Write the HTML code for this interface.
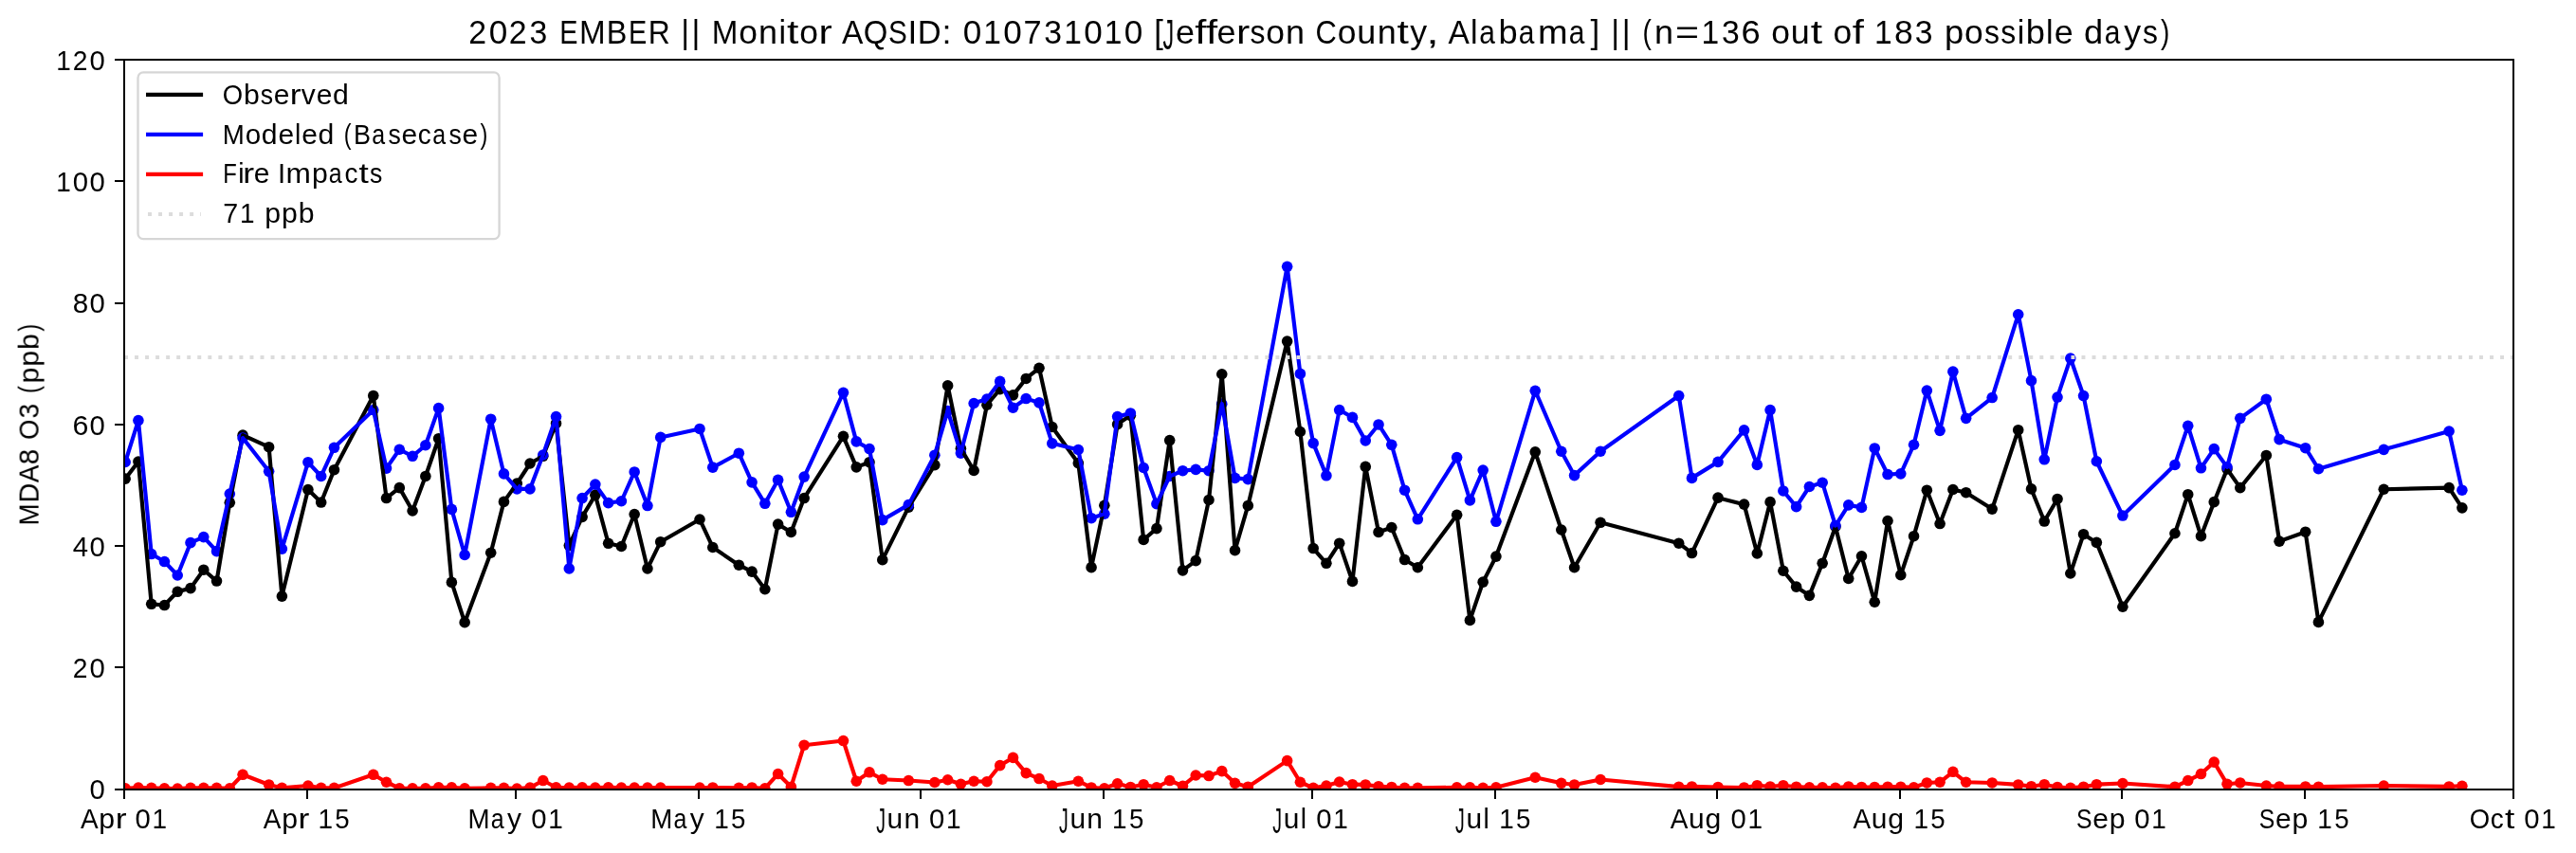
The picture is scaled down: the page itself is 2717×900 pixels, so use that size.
<!DOCTYPE html>
<html><head><meta charset="utf-8"><title>chart</title>
<style>html,body{margin:0;padding:0;background:#fff}svg{display:block}text{font-family:"Liberation Sans",sans-serif;fill:#000}</style></head><body>
<svg width="2717" height="900" viewBox="0 0 2717 900">
<rect width="2717" height="900" fill="#fff"/>
<defs><clipPath id="ax"><rect x="131.00" y="63.20" width="2519.80" height="769.50"/></clipPath></defs>
<g clip-path="url(#ax)">
<g fill="#000000"><circle cx="132.15" cy="505.15" r="5.80"/><circle cx="145.92" cy="487.07" r="5.80"/><circle cx="159.69" cy="637.31" r="5.80"/><circle cx="173.46" cy="638.53" r="5.80"/><circle cx="187.23" cy="624.29" r="5.80"/><circle cx="201.00" cy="620.64" r="5.80"/><circle cx="214.77" cy="601.21" r="5.80"/><circle cx="228.54" cy="613.07" r="5.80"/><circle cx="242.31" cy="530.35" r="5.80"/><circle cx="256.07" cy="459.17" r="5.80"/><circle cx="283.61" cy="471.68" r="5.80"/><circle cx="297.38" cy="629.10" r="5.80"/><circle cx="324.92" cy="516.56" r="5.80"/><circle cx="338.69" cy="530.03" r="5.80"/><circle cx="352.46" cy="495.72" r="5.80"/><circle cx="393.77" cy="417.43" r="5.80"/><circle cx="407.54" cy="525.54" r="5.80"/><circle cx="421.31" cy="514.64" r="5.80"/><circle cx="435.08" cy="539.01" r="5.80"/><circle cx="448.85" cy="502.46" r="5.80"/><circle cx="462.62" cy="462.70" r="5.80"/><circle cx="476.38" cy="614.42" r="5.80"/><circle cx="490.15" cy="656.68" r="5.80"/><circle cx="517.69" cy="583.25" r="5.80"/><circle cx="531.46" cy="529.39" r="5.80"/><circle cx="545.23" cy="510.15" r="5.80"/><circle cx="559.00" cy="488.99" r="5.80"/><circle cx="572.77" cy="481.30" r="5.80"/><circle cx="586.54" cy="446.67" r="5.80"/><circle cx="600.31" cy="575.56" r="5.80"/><circle cx="614.08" cy="545.42" r="5.80"/><circle cx="627.85" cy="522.34" r="5.80"/><circle cx="641.62" cy="573.31" r="5.80"/><circle cx="655.39" cy="576.52" r="5.80"/><circle cx="669.16" cy="542.53" r="5.80"/><circle cx="682.93" cy="599.93" r="5.80"/><circle cx="696.70" cy="571.71" r="5.80"/><circle cx="738.00" cy="547.99" r="5.80"/><circle cx="751.77" cy="577.48" r="5.80"/><circle cx="779.31" cy="596.21" r="5.80"/><circle cx="793.08" cy="603.13" r="5.80"/><circle cx="806.85" cy="621.73" r="5.80"/><circle cx="820.62" cy="553.12" r="5.80"/><circle cx="834.39" cy="561.45" r="5.80"/><circle cx="848.16" cy="525.54" r="5.80"/><circle cx="889.47" cy="460.33" r="5.80"/><circle cx="903.24" cy="492.84" r="5.80"/><circle cx="917.01" cy="487.71" r="5.80"/><circle cx="930.78" cy="590.69" r="5.80"/><circle cx="958.31" cy="535.16" r="5.80"/><circle cx="985.85" cy="490.59" r="5.80"/><circle cx="999.62" cy="406.91" r="5.80"/><circle cx="1013.39" cy="473.22" r="5.80"/><circle cx="1027.16" cy="496.49" r="5.80"/><circle cx="1040.93" cy="427.24" r="5.80"/><circle cx="1054.70" cy="410.76" r="5.80"/><circle cx="1068.47" cy="416.85" r="5.80"/><circle cx="1082.24" cy="399.47" r="5.80"/><circle cx="1096.01" cy="388.31" r="5.80"/><circle cx="1109.78" cy="450.52" r="5.80"/><circle cx="1137.32" cy="488.67" r="5.80"/><circle cx="1151.09" cy="598.64" r="5.80"/><circle cx="1164.85" cy="533.24" r="5.80"/><circle cx="1178.62" cy="447.63" r="5.80"/><circle cx="1192.39" cy="438.33" r="5.80"/><circle cx="1206.16" cy="569.47" r="5.80"/><circle cx="1219.93" cy="557.60" r="5.80"/><circle cx="1233.70" cy="464.62" r="5.80"/><circle cx="1247.47" cy="601.85" r="5.80"/><circle cx="1261.24" cy="591.59" r="5.80"/><circle cx="1275.01" cy="527.47" r="5.80"/><circle cx="1288.78" cy="394.73" r="5.80"/><circle cx="1302.55" cy="580.69" r="5.80"/><circle cx="1316.32" cy="533.43" r="5.80"/><circle cx="1357.63" cy="360.10" r="5.80"/><circle cx="1371.40" cy="455.52" r="5.80"/><circle cx="1385.17" cy="578.57" r="5.80"/><circle cx="1398.93" cy="594.28" r="5.80"/><circle cx="1412.70" cy="573.19" r="5.80"/><circle cx="1426.47" cy="613.39" r="5.80"/><circle cx="1440.24" cy="492.39" r="5.80"/><circle cx="1454.01" cy="561.45" r="5.80"/><circle cx="1467.78" cy="556.51" r="5.80"/><circle cx="1481.55" cy="590.56" r="5.80"/><circle cx="1495.32" cy="598.77" r="5.80"/><circle cx="1536.63" cy="543.30" r="5.80"/><circle cx="1550.40" cy="654.43" r="5.80"/><circle cx="1564.17" cy="614.16" r="5.80"/><circle cx="1577.94" cy="587.10" r="5.80"/><circle cx="1619.25" cy="476.81" r="5.80"/><circle cx="1646.78" cy="559.01" r="5.80"/><circle cx="1660.55" cy="598.77" r="5.80"/><circle cx="1688.09" cy="551.32" r="5.80"/><circle cx="1770.71" cy="573.19" r="5.80"/><circle cx="1784.48" cy="583.57" r="5.80"/><circle cx="1812.02" cy="525.16" r="5.80"/><circle cx="1839.56" cy="532.15" r="5.80"/><circle cx="1853.32" cy="583.90" r="5.80"/><circle cx="1867.09" cy="529.65" r="5.80"/><circle cx="1880.86" cy="602.23" r="5.80"/><circle cx="1894.63" cy="619.16" r="5.80"/><circle cx="1908.40" cy="628.33" r="5.80"/><circle cx="1922.17" cy="594.28" r="5.80"/><circle cx="1935.94" cy="555.68" r="5.80"/><circle cx="1949.71" cy="610.44" r="5.80"/><circle cx="1963.48" cy="586.78" r="5.80"/><circle cx="1977.25" cy="635.26" r="5.80"/><circle cx="1991.02" cy="549.52" r="5.80"/><circle cx="2004.79" cy="606.72" r="5.80"/><circle cx="2018.56" cy="565.68" r="5.80"/><circle cx="2032.33" cy="517.21" r="5.80"/><circle cx="2046.10" cy="552.54" r="5.80"/><circle cx="2059.87" cy="516.50" r="5.80"/><circle cx="2073.64" cy="519.71" r="5.80"/><circle cx="2101.17" cy="537.08" r="5.80"/><circle cx="2128.71" cy="453.72" r="5.80"/><circle cx="2142.48" cy="515.92" r="5.80"/><circle cx="2156.25" cy="550.04" r="5.80"/><circle cx="2170.02" cy="526.44" r="5.80"/><circle cx="2183.79" cy="604.99" r="5.80"/><circle cx="2197.56" cy="563.70" r="5.80"/><circle cx="2211.33" cy="572.42" r="5.80"/><circle cx="2238.87" cy="640.26" r="5.80"/><circle cx="2293.95" cy="562.73" r="5.80"/><circle cx="2307.72" cy="521.69" r="5.80"/><circle cx="2321.48" cy="565.68" r="5.80"/><circle cx="2335.25" cy="529.65" r="5.80"/><circle cx="2349.02" cy="494.89" r="5.80"/><circle cx="2362.79" cy="514.64" r="5.80"/><circle cx="2390.33" cy="480.46" r="5.80"/><circle cx="2404.10" cy="571.13" r="5.80"/><circle cx="2431.64" cy="561.19" r="5.80"/><circle cx="2445.41" cy="656.42" r="5.80"/><circle cx="2514.26" cy="516.24" r="5.80"/><circle cx="2583.10" cy="514.64" r="5.80"/><circle cx="2596.87" cy="535.87" r="5.80"/></g>
<g fill="#0000ff"><circle cx="132.15" cy="487.52" r="5.80"/><circle cx="145.92" cy="443.53" r="5.80"/><circle cx="159.69" cy="584.54" r="5.80"/><circle cx="173.46" cy="592.55" r="5.80"/><circle cx="187.23" cy="606.98" r="5.80"/><circle cx="201.00" cy="572.67" r="5.80"/><circle cx="214.77" cy="566.58" r="5.80"/><circle cx="228.54" cy="581.65" r="5.80"/><circle cx="242.31" cy="521.05" r="5.80"/><circle cx="256.07" cy="462.06" r="5.80"/><circle cx="283.61" cy="497.33" r="5.80"/><circle cx="297.38" cy="579.09" r="5.80"/><circle cx="324.92" cy="487.71" r="5.80"/><circle cx="338.69" cy="502.46" r="5.80"/><circle cx="352.46" cy="472.32" r="5.80"/><circle cx="393.77" cy="432.56" r="5.80"/><circle cx="407.54" cy="494.12" r="5.80"/><circle cx="421.31" cy="474.24" r="5.80"/><circle cx="435.08" cy="481.30" r="5.80"/><circle cx="448.85" cy="469.75" r="5.80"/><circle cx="462.62" cy="430.64" r="5.80"/><circle cx="476.38" cy="537.40" r="5.80"/><circle cx="490.15" cy="585.50" r="5.80"/><circle cx="517.69" cy="442.18" r="5.80"/><circle cx="531.46" cy="499.89" r="5.80"/><circle cx="545.23" cy="515.92" r="5.80"/><circle cx="559.00" cy="515.92" r="5.80"/><circle cx="572.77" cy="480.01" r="5.80"/><circle cx="586.54" cy="439.61" r="5.80"/><circle cx="600.31" cy="599.93" r="5.80"/><circle cx="614.08" cy="525.54" r="5.80"/><circle cx="627.85" cy="511.11" r="5.80"/><circle cx="641.62" cy="530.67" r="5.80"/><circle cx="655.39" cy="528.75" r="5.80"/><circle cx="669.16" cy="497.97" r="5.80"/><circle cx="682.93" cy="533.56" r="5.80"/><circle cx="696.70" cy="461.42" r="5.80"/><circle cx="738.00" cy="452.44" r="5.80"/><circle cx="751.77" cy="493.16" r="5.80"/><circle cx="779.31" cy="478.22" r="5.80"/><circle cx="793.08" cy="508.87" r="5.80"/><circle cx="806.85" cy="531.31" r="5.80"/><circle cx="820.62" cy="506.30" r="5.80"/><circle cx="834.39" cy="540.29" r="5.80"/><circle cx="848.16" cy="503.10" r="5.80"/><circle cx="889.47" cy="414.35" r="5.80"/><circle cx="903.24" cy="465.91" r="5.80"/><circle cx="917.01" cy="473.60" r="5.80"/><circle cx="930.78" cy="548.63" r="5.80"/><circle cx="958.31" cy="532.60" r="5.80"/><circle cx="985.85" cy="480.20" r="5.80"/><circle cx="999.62" cy="433.46" r="5.80"/><circle cx="1013.39" cy="478.09" r="5.80"/><circle cx="1027.16" cy="425.51" r="5.80"/><circle cx="1040.93" cy="421.02" r="5.80"/><circle cx="1054.70" cy="402.42" r="5.80"/><circle cx="1068.47" cy="430.25" r="5.80"/><circle cx="1082.24" cy="420.57" r="5.80"/><circle cx="1096.01" cy="424.87" r="5.80"/><circle cx="1109.78" cy="467.83" r="5.80"/><circle cx="1137.32" cy="474.50" r="5.80"/><circle cx="1151.09" cy="546.70" r="5.80"/><circle cx="1164.85" cy="542.21" r="5.80"/><circle cx="1178.62" cy="439.61" r="5.80"/><circle cx="1192.39" cy="435.96" r="5.80"/><circle cx="1206.16" cy="493.48" r="5.80"/><circle cx="1219.93" cy="531.63" r="5.80"/><circle cx="1233.70" cy="502.46" r="5.80"/><circle cx="1247.47" cy="496.69" r="5.80"/><circle cx="1261.24" cy="495.40" r="5.80"/><circle cx="1275.01" cy="496.69" r="5.80"/><circle cx="1288.78" cy="426.15" r="5.80"/><circle cx="1302.55" cy="504.38" r="5.80"/><circle cx="1316.32" cy="505.66" r="5.80"/><circle cx="1357.63" cy="281.35" r="5.80"/><circle cx="1371.40" cy="394.41" r="5.80"/><circle cx="1385.17" cy="467.64" r="5.80"/><circle cx="1398.93" cy="501.82" r="5.80"/><circle cx="1412.70" cy="432.56" r="5.80"/><circle cx="1426.47" cy="440.38" r="5.80"/><circle cx="1440.24" cy="464.94" r="5.80"/><circle cx="1454.01" cy="447.95" r="5.80"/><circle cx="1467.78" cy="469.30" r="5.80"/><circle cx="1481.55" cy="517.21" r="5.80"/><circle cx="1495.32" cy="547.79" r="5.80"/><circle cx="1536.63" cy="482.58" r="5.80"/><circle cx="1550.40" cy="527.91" r="5.80"/><circle cx="1564.17" cy="496.11" r="5.80"/><circle cx="1577.94" cy="550.29" r="5.80"/><circle cx="1619.25" cy="412.30" r="5.80"/><circle cx="1646.78" cy="476.23" r="5.80"/><circle cx="1660.55" cy="501.62" r="5.80"/><circle cx="1688.09" cy="476.23" r="5.80"/><circle cx="1770.71" cy="417.55" r="5.80"/><circle cx="1784.48" cy="504.38" r="5.80"/><circle cx="1812.02" cy="487.39" r="5.80"/><circle cx="1839.56" cy="453.85" r="5.80"/><circle cx="1853.32" cy="490.40" r="5.80"/><circle cx="1867.09" cy="432.56" r="5.80"/><circle cx="1880.86" cy="517.97" r="5.80"/><circle cx="1894.63" cy="534.65" r="5.80"/><circle cx="1908.40" cy="513.49" r="5.80"/><circle cx="1922.17" cy="509.25" r="5.80"/><circle cx="1935.94" cy="554.53" r="5.80"/><circle cx="1949.71" cy="532.92" r="5.80"/><circle cx="1963.48" cy="535.42" r="5.80"/><circle cx="1977.25" cy="472.96" r="5.80"/><circle cx="1991.02" cy="500.53" r="5.80"/><circle cx="2004.79" cy="499.83" r="5.80"/><circle cx="2018.56" cy="469.24" r="5.80"/><circle cx="2032.33" cy="412.04" r="5.80"/><circle cx="2046.10" cy="454.36" r="5.80"/><circle cx="2059.87" cy="392.16" r="5.80"/><circle cx="2073.64" cy="441.35" r="5.80"/><circle cx="2101.17" cy="419.54" r="5.80"/><circle cx="2128.71" cy="331.76" r="5.80"/><circle cx="2142.48" cy="401.65" r="5.80"/><circle cx="2156.25" cy="484.82" r="5.80"/><circle cx="2170.02" cy="419.03" r="5.80"/><circle cx="2183.79" cy="378.05" r="5.80"/><circle cx="2197.56" cy="417.55" r="5.80"/><circle cx="2211.33" cy="486.75" r="5.80"/><circle cx="2238.87" cy="544.07" r="5.80"/><circle cx="2293.95" cy="490.46" r="5.80"/><circle cx="2307.72" cy="449.36" r="5.80"/><circle cx="2321.48" cy="493.80" r="5.80"/><circle cx="2335.25" cy="473.60" r="5.80"/><circle cx="2349.02" cy="492.84" r="5.80"/><circle cx="2362.79" cy="441.35" r="5.80"/><circle cx="2390.33" cy="421.21" r="5.80"/><circle cx="2404.10" cy="463.66" r="5.80"/><circle cx="2431.64" cy="472.70" r="5.80"/><circle cx="2445.41" cy="494.76" r="5.80"/><circle cx="2514.26" cy="474.37" r="5.80"/><circle cx="2583.10" cy="455.00" r="5.80"/><circle cx="2596.87" cy="517.21" r="5.80"/></g>
<g fill="#ff0000"><circle cx="132.15" cy="831.74" r="5.80"/><circle cx="145.92" cy="831.10" r="5.80"/><circle cx="159.69" cy="831.42" r="5.80"/><circle cx="173.46" cy="831.74" r="5.80"/><circle cx="187.23" cy="832.06" r="5.80"/><circle cx="201.00" cy="831.42" r="5.80"/><circle cx="214.77" cy="831.42" r="5.80"/><circle cx="228.54" cy="831.42" r="5.80"/><circle cx="242.31" cy="831.74" r="5.80"/><circle cx="256.07" cy="817.31" r="5.80"/><circle cx="283.61" cy="827.95" r="5.80"/><circle cx="297.38" cy="831.42" r="5.80"/><circle cx="324.92" cy="828.98" r="5.80"/><circle cx="338.69" cy="831.42" r="5.80"/><circle cx="352.46" cy="831.42" r="5.80"/><circle cx="393.77" cy="817.31" r="5.80"/><circle cx="407.54" cy="825.26" r="5.80"/><circle cx="421.31" cy="831.74" r="5.80"/><circle cx="435.08" cy="831.74" r="5.80"/><circle cx="448.85" cy="831.74" r="5.80"/><circle cx="462.62" cy="830.78" r="5.80"/><circle cx="476.38" cy="830.78" r="5.80"/><circle cx="490.15" cy="831.74" r="5.80"/><circle cx="517.69" cy="831.42" r="5.80"/><circle cx="531.46" cy="831.42" r="5.80"/><circle cx="545.23" cy="832.06" r="5.80"/><circle cx="559.00" cy="831.10" r="5.80"/><circle cx="572.77" cy="823.53" r="5.80"/><circle cx="586.54" cy="830.78" r="5.80"/><circle cx="600.31" cy="831.10" r="5.80"/><circle cx="614.08" cy="830.78" r="5.80"/><circle cx="627.85" cy="831.10" r="5.80"/><circle cx="641.62" cy="830.78" r="5.80"/><circle cx="655.39" cy="831.10" r="5.80"/><circle cx="669.16" cy="831.10" r="5.80"/><circle cx="682.93" cy="831.10" r="5.80"/><circle cx="696.70" cy="831.10" r="5.80"/><circle cx="738.00" cy="831.10" r="5.80"/><circle cx="751.77" cy="830.97" r="5.80"/><circle cx="779.31" cy="831.42" r="5.80"/><circle cx="793.08" cy="830.97" r="5.80"/><circle cx="806.85" cy="831.74" r="5.80"/><circle cx="820.62" cy="816.54" r="5.80"/><circle cx="834.39" cy="830.20" r="5.80"/><circle cx="848.16" cy="786.21" r="5.80"/><circle cx="889.47" cy="781.53" r="5.80"/><circle cx="903.24" cy="824.24" r="5.80"/><circle cx="917.01" cy="814.81" r="5.80"/><circle cx="930.78" cy="822.25" r="5.80"/><circle cx="958.31" cy="823.53" r="5.80"/><circle cx="985.85" cy="825.52" r="5.80"/><circle cx="999.62" cy="822.76" r="5.80"/><circle cx="1013.39" cy="827.25" r="5.80"/><circle cx="1027.16" cy="824.24" r="5.80"/><circle cx="1040.93" cy="824.75" r="5.80"/><circle cx="1054.70" cy="807.63" r="5.80"/><circle cx="1068.47" cy="799.42" r="5.80"/><circle cx="1082.24" cy="815.58" r="5.80"/><circle cx="1096.01" cy="821.54" r="5.80"/><circle cx="1109.78" cy="828.98" r="5.80"/><circle cx="1137.32" cy="824.24" r="5.80"/><circle cx="1151.09" cy="830.97" r="5.80"/><circle cx="1164.85" cy="831.74" r="5.80"/><circle cx="1178.62" cy="826.74" r="5.80"/><circle cx="1192.39" cy="830.46" r="5.80"/><circle cx="1206.16" cy="827.70" r="5.80"/><circle cx="1219.93" cy="830.78" r="5.80"/><circle cx="1233.70" cy="823.53" r="5.80"/><circle cx="1247.47" cy="829.24" r="5.80"/><circle cx="1261.24" cy="818.02" r="5.80"/><circle cx="1275.01" cy="818.53" r="5.80"/><circle cx="1288.78" cy="813.59" r="5.80"/><circle cx="1302.55" cy="826.29" r="5.80"/><circle cx="1316.32" cy="830.20" r="5.80"/><circle cx="1357.63" cy="802.63" r="5.80"/><circle cx="1371.40" cy="825.26" r="5.80"/><circle cx="1385.17" cy="831.42" r="5.80"/><circle cx="1398.93" cy="828.98" r="5.80"/><circle cx="1412.70" cy="825.00" r="5.80"/><circle cx="1426.47" cy="827.70" r="5.80"/><circle cx="1440.24" cy="827.95" r="5.80"/><circle cx="1454.01" cy="829.69" r="5.80"/><circle cx="1467.78" cy="830.46" r="5.80"/><circle cx="1481.55" cy="831.23" r="5.80"/><circle cx="1495.32" cy="831.42" r="5.80"/><circle cx="1536.63" cy="830.78" r="5.80"/><circle cx="1550.40" cy="830.78" r="5.80"/><circle cx="1564.17" cy="831.23" r="5.80"/><circle cx="1577.94" cy="830.78" r="5.80"/><circle cx="1619.25" cy="820.26" r="5.80"/><circle cx="1646.78" cy="826.29" r="5.80"/><circle cx="1660.55" cy="827.95" r="5.80"/><circle cx="1688.09" cy="822.50" r="5.80"/><circle cx="1770.71" cy="830.20" r="5.80"/><circle cx="1784.48" cy="829.94" r="5.80"/><circle cx="1812.02" cy="830.46" r="5.80"/><circle cx="1839.56" cy="830.97" r="5.80"/><circle cx="1853.32" cy="828.72" r="5.80"/><circle cx="1867.09" cy="829.94" r="5.80"/><circle cx="1880.86" cy="828.72" r="5.80"/><circle cx="1894.63" cy="830.20" r="5.80"/><circle cx="1908.40" cy="830.78" r="5.80"/><circle cx="1922.17" cy="830.78" r="5.80"/><circle cx="1935.94" cy="831.23" r="5.80"/><circle cx="1949.71" cy="829.94" r="5.80"/><circle cx="1963.48" cy="830.46" r="5.80"/><circle cx="1977.25" cy="830.46" r="5.80"/><circle cx="1991.02" cy="830.20" r="5.80"/><circle cx="2004.79" cy="830.20" r="5.80"/><circle cx="2018.56" cy="830.78" r="5.80"/><circle cx="2032.33" cy="825.97" r="5.80"/><circle cx="2046.10" cy="825.26" r="5.80"/><circle cx="2059.87" cy="814.30" r="5.80"/><circle cx="2073.64" cy="825.26" r="5.80"/><circle cx="2101.17" cy="825.97" r="5.80"/><circle cx="2128.71" cy="827.95" r="5.80"/><circle cx="2142.48" cy="829.69" r="5.80"/><circle cx="2156.25" cy="827.70" r="5.80"/><circle cx="2170.02" cy="830.46" r="5.80"/><circle cx="2183.79" cy="831.23" r="5.80"/><circle cx="2197.56" cy="830.20" r="5.80"/><circle cx="2211.33" cy="827.70" r="5.80"/><circle cx="2238.87" cy="826.48" r="5.80"/><circle cx="2293.95" cy="830.20" r="5.80"/><circle cx="2307.72" cy="823.53" r="5.80"/><circle cx="2321.48" cy="816.54" r="5.80"/><circle cx="2335.25" cy="804.10" r="5.80"/><circle cx="2349.02" cy="827.25" r="5.80"/><circle cx="2362.79" cy="825.97" r="5.80"/><circle cx="2390.33" cy="828.98" r="5.80"/><circle cx="2404.10" cy="829.94" r="5.80"/><circle cx="2431.64" cy="829.94" r="5.80"/><circle cx="2445.41" cy="830.20" r="5.80"/><circle cx="2514.26" cy="828.98" r="5.80"/><circle cx="2583.10" cy="829.94" r="5.80"/><circle cx="2596.87" cy="829.24" r="5.80"/></g>
<path d="M132.15 505.15 L145.92 487.07 L159.69 637.31 L173.46 638.53 L187.23 624.29 L201.00 620.64 L214.77 601.21 L228.54 613.07 L242.31 530.35 L256.07 459.17 L283.61 471.68 L297.38 629.10 L324.92 516.56 L338.69 530.03 L352.46 495.72 L393.77 417.43 L407.54 525.54 L421.31 514.64 L435.08 539.01 L448.85 502.46 L462.62 462.70 L476.38 614.42 L490.15 656.68 L517.69 583.25 L531.46 529.39 L545.23 510.15 L559.00 488.99 L572.77 481.30 L586.54 446.67 L600.31 575.56 L614.08 545.42 L627.85 522.34 L641.62 573.31 L655.39 576.52 L669.16 542.53 L682.93 599.93 L696.70 571.71 L738.00 547.99 L751.77 577.48 L779.31 596.21 L793.08 603.13 L806.85 621.73 L820.62 553.12 L834.39 561.45 L848.16 525.54 L889.47 460.33 L903.24 492.84 L917.01 487.71 L930.78 590.69 L958.31 535.16 L985.85 490.59 L999.62 406.91 L1013.39 473.22 L1027.16 496.49 L1040.93 427.24 L1054.70 410.76 L1068.47 416.85 L1082.24 399.47 L1096.01 388.31 L1109.78 450.52 L1137.32 488.67 L1151.09 598.64 L1164.85 533.24 L1178.62 447.63 L1192.39 438.33 L1206.16 569.47 L1219.93 557.60 L1233.70 464.62 L1247.47 601.85 L1261.24 591.59 L1275.01 527.47 L1288.78 394.73 L1302.55 580.69 L1316.32 533.43 L1357.63 360.10 L1371.40 455.52 L1385.17 578.57 L1398.93 594.28 L1412.70 573.19 L1426.47 613.39 L1440.24 492.39 L1454.01 561.45 L1467.78 556.51 L1481.55 590.56 L1495.32 598.77 L1536.63 543.30 L1550.40 654.43 L1564.17 614.16 L1577.94 587.10 L1619.25 476.81 L1646.78 559.01 L1660.55 598.77 L1688.09 551.32 L1770.71 573.19 L1784.48 583.57 L1812.02 525.16 L1839.56 532.15 L1853.32 583.90 L1867.09 529.65 L1880.86 602.23 L1894.63 619.16 L1908.40 628.33 L1922.17 594.28 L1935.94 555.68 L1949.71 610.44 L1963.48 586.78 L1977.25 635.26 L1991.02 549.52 L2004.79 606.72 L2018.56 565.68 L2032.33 517.21 L2046.10 552.54 L2059.87 516.50 L2073.64 519.71 L2101.17 537.08 L2128.71 453.72 L2142.48 515.92 L2156.25 550.04 L2170.02 526.44 L2183.79 604.99 L2197.56 563.70 L2211.33 572.42 L2238.87 640.26 L2293.95 562.73 L2307.72 521.69 L2321.48 565.68 L2335.25 529.65 L2349.02 494.89 L2362.79 514.64 L2390.33 480.46 L2404.10 571.13 L2431.64 561.19 L2445.41 656.42 L2514.26 516.24 L2583.10 514.64 L2596.87 535.87" fill="none" stroke="#000000" stroke-width="4.17" stroke-linejoin="round" stroke-linecap="butt"/>
<path d="M132.15 487.52 L145.92 443.53 L159.69 584.54 L173.46 592.55 L187.23 606.98 L201.00 572.67 L214.77 566.58 L228.54 581.65 L242.31 521.05 L256.07 462.06 L283.61 497.33 L297.38 579.09 L324.92 487.71 L338.69 502.46 L352.46 472.32 L393.77 432.56 L407.54 494.12 L421.31 474.24 L435.08 481.30 L448.85 469.75 L462.62 430.64 L476.38 537.40 L490.15 585.50 L517.69 442.18 L531.46 499.89 L545.23 515.92 L559.00 515.92 L572.77 480.01 L586.54 439.61 L600.31 599.93 L614.08 525.54 L627.85 511.11 L641.62 530.67 L655.39 528.75 L669.16 497.97 L682.93 533.56 L696.70 461.42 L738.00 452.44 L751.77 493.16 L779.31 478.22 L793.08 508.87 L806.85 531.31 L820.62 506.30 L834.39 540.29 L848.16 503.10 L889.47 414.35 L903.24 465.91 L917.01 473.60 L930.78 548.63 L958.31 532.60 L985.85 480.20 L999.62 433.46 L1013.39 478.09 L1027.16 425.51 L1040.93 421.02 L1054.70 402.42 L1068.47 430.25 L1082.24 420.57 L1096.01 424.87 L1109.78 467.83 L1137.32 474.50 L1151.09 546.70 L1164.85 542.21 L1178.62 439.61 L1192.39 435.96 L1206.16 493.48 L1219.93 531.63 L1233.70 502.46 L1247.47 496.69 L1261.24 495.40 L1275.01 496.69 L1288.78 426.15 L1302.55 504.38 L1316.32 505.66 L1357.63 281.35 L1371.40 394.41 L1385.17 467.64 L1398.93 501.82 L1412.70 432.56 L1426.47 440.38 L1440.24 464.94 L1454.01 447.95 L1467.78 469.30 L1481.55 517.21 L1495.32 547.79 L1536.63 482.58 L1550.40 527.91 L1564.17 496.11 L1577.94 550.29 L1619.25 412.30 L1646.78 476.23 L1660.55 501.62 L1688.09 476.23 L1770.71 417.55 L1784.48 504.38 L1812.02 487.39 L1839.56 453.85 L1853.32 490.40 L1867.09 432.56 L1880.86 517.97 L1894.63 534.65 L1908.40 513.49 L1922.17 509.25 L1935.94 554.53 L1949.71 532.92 L1963.48 535.42 L1977.25 472.96 L1991.02 500.53 L2004.79 499.83 L2018.56 469.24 L2032.33 412.04 L2046.10 454.36 L2059.87 392.16 L2073.64 441.35 L2101.17 419.54 L2128.71 331.76 L2142.48 401.65 L2156.25 484.82 L2170.02 419.03 L2183.79 378.05 L2197.56 417.55 L2211.33 486.75 L2238.87 544.07 L2293.95 490.46 L2307.72 449.36 L2321.48 493.80 L2335.25 473.60 L2349.02 492.84 L2362.79 441.35 L2390.33 421.21 L2404.10 463.66 L2431.64 472.70 L2445.41 494.76 L2514.26 474.37 L2583.10 455.00 L2596.87 517.21" fill="none" stroke="#0000ff" stroke-width="4.17" stroke-linejoin="round" stroke-linecap="butt"/>
<path d="M132.15 831.74 L145.92 831.10 L159.69 831.42 L173.46 831.74 L187.23 832.06 L201.00 831.42 L214.77 831.42 L228.54 831.42 L242.31 831.74 L256.07 817.31 L283.61 827.95 L297.38 831.42 L324.92 828.98 L338.69 831.42 L352.46 831.42 L393.77 817.31 L407.54 825.26 L421.31 831.74 L435.08 831.74 L448.85 831.74 L462.62 830.78 L476.38 830.78 L490.15 831.74 L517.69 831.42 L531.46 831.42 L545.23 832.06 L559.00 831.10 L572.77 823.53 L586.54 830.78 L600.31 831.10 L614.08 830.78 L627.85 831.10 L641.62 830.78 L655.39 831.10 L669.16 831.10 L682.93 831.10 L696.70 831.10 L738.00 831.10 L751.77 830.97 L779.31 831.42 L793.08 830.97 L806.85 831.74 L820.62 816.54 L834.39 830.20 L848.16 786.21 L889.47 781.53 L903.24 824.24 L917.01 814.81 L930.78 822.25 L958.31 823.53 L985.85 825.52 L999.62 822.76 L1013.39 827.25 L1027.16 824.24 L1040.93 824.75 L1054.70 807.63 L1068.47 799.42 L1082.24 815.58 L1096.01 821.54 L1109.78 828.98 L1137.32 824.24 L1151.09 830.97 L1164.85 831.74 L1178.62 826.74 L1192.39 830.46 L1206.16 827.70 L1219.93 830.78 L1233.70 823.53 L1247.47 829.24 L1261.24 818.02 L1275.01 818.53 L1288.78 813.59 L1302.55 826.29 L1316.32 830.20 L1357.63 802.63 L1371.40 825.26 L1385.17 831.42 L1398.93 828.98 L1412.70 825.00 L1426.47 827.70 L1440.24 827.95 L1454.01 829.69 L1467.78 830.46 L1481.55 831.23 L1495.32 831.42 L1536.63 830.78 L1550.40 830.78 L1564.17 831.23 L1577.94 830.78 L1619.25 820.26 L1646.78 826.29 L1660.55 827.95 L1688.09 822.50 L1770.71 830.20 L1784.48 829.94 L1812.02 830.46 L1839.56 830.97 L1853.32 828.72 L1867.09 829.94 L1880.86 828.72 L1894.63 830.20 L1908.40 830.78 L1922.17 830.78 L1935.94 831.23 L1949.71 829.94 L1963.48 830.46 L1977.25 830.46 L1991.02 830.20 L2004.79 830.20 L2018.56 830.78 L2032.33 825.97 L2046.10 825.26 L2059.87 814.30 L2073.64 825.26 L2101.17 825.97 L2128.71 827.95 L2142.48 829.69 L2156.25 827.70 L2170.02 830.46 L2183.79 831.23 L2197.56 830.20 L2211.33 827.70 L2238.87 826.48 L2293.95 830.20 L2307.72 823.53 L2321.48 816.54 L2335.25 804.10 L2349.02 827.25 L2362.79 825.97 L2390.33 828.98 L2404.10 829.94 L2431.64 829.94 L2445.41 830.20 L2514.26 828.98 L2583.10 829.94 L2596.87 829.24" fill="none" stroke="#ff0000" stroke-width="4.17" stroke-linejoin="round" stroke-linecap="butt"/>
<line x1="131.00" y1="377.00" x2="2650.80" y2="377.00" stroke="#dcdcdc" stroke-width="4" stroke-dasharray="3.95 7.09"/>
</g>
<g stroke="#000" stroke-width="2"><line x1="131" y1="832.7" x2="131" y2="842.9"/><line x1="324" y1="832.7" x2="324" y2="842.9"/><line x1="544" y1="832.7" x2="544" y2="842.9"/><line x1="737" y1="832.7" x2="737" y2="842.9"/><line x1="971" y1="832.7" x2="971" y2="842.9"/><line x1="1164" y1="832.7" x2="1164" y2="842.9"/><line x1="1384" y1="832.7" x2="1384" y2="842.9"/><line x1="1577" y1="832.7" x2="1577" y2="842.9"/><line x1="1811" y1="832.7" x2="1811" y2="842.9"/><line x1="2004" y1="832.7" x2="2004" y2="842.9"/><line x1="2238" y1="832.7" x2="2238" y2="842.9"/><line x1="2431" y1="832.7" x2="2431" y2="842.9"/><line x1="2651" y1="832.7" x2="2651" y2="842.9"/><line x1="121.0" y1="833" x2="131.0" y2="833"/><line x1="121.0" y1="704" x2="131.0" y2="704"/><line x1="121.0" y1="576" x2="131.0" y2="576"/><line x1="121.0" y1="448" x2="131.0" y2="448"/><line x1="121.0" y1="320" x2="131.0" y2="320"/><line x1="121.0" y1="191" x2="131.0" y2="191"/><line x1="121.0" y1="63" x2="131.0" y2="63"/></g>
<rect x="131.0" y="63.0" width="2520.0" height="770.0" fill="none" stroke="#000" stroke-width="2"/>
<g style="filter:grayscale(1)">
<g font-size="29.50" transform="translate(0,874.20)"><text x="84.91" textLength="18.66" lengthAdjust="spacingAndGlyphs">A</text><text x="104.38" textLength="16.81" lengthAdjust="spacingAndGlyphs">p</text><text x="121.65" textLength="11.85" lengthAdjust="spacingAndGlyphs">r</text><text x="142.49" textLength="16.29" lengthAdjust="spacingAndGlyphs">0</text><text x="160.45" textLength="15.55" lengthAdjust="spacingAndGlyphs">1</text></g>
<g font-size="29.50" transform="translate(0,874.20)"><text x="277.68" textLength="18.66" lengthAdjust="spacingAndGlyphs">A</text><text x="297.15" textLength="16.81" lengthAdjust="spacingAndGlyphs">p</text><text x="314.42" textLength="11.85" lengthAdjust="spacingAndGlyphs">r</text><text x="335.49" textLength="15.55" lengthAdjust="spacingAndGlyphs">1</text><text x="353.34" textLength="15.37" lengthAdjust="spacingAndGlyphs">5</text></g>
<g font-size="29.50" transform="translate(0,874.20)"><text x="493.58" textLength="23.07" lengthAdjust="spacingAndGlyphs">M</text><text x="517.77" textLength="13.89" lengthAdjust="spacingAndGlyphs">a</text><text x="534.99" textLength="14.92" lengthAdjust="spacingAndGlyphs">y</text><text x="560.27" textLength="16.29" lengthAdjust="spacingAndGlyphs">0</text><text x="578.23" textLength="15.55" lengthAdjust="spacingAndGlyphs">1</text></g>
<g font-size="29.50" transform="translate(0,874.20)"><text x="686.35" textLength="23.07" lengthAdjust="spacingAndGlyphs">M</text><text x="710.54" textLength="13.89" lengthAdjust="spacingAndGlyphs">a</text><text x="727.77" textLength="14.92" lengthAdjust="spacingAndGlyphs">y</text><text x="753.28" textLength="15.55" lengthAdjust="spacingAndGlyphs">1</text><text x="771.12" textLength="15.37" lengthAdjust="spacingAndGlyphs">5</text></g>
<g font-size="29.50" transform="translate(0,874.20)"><text x="924.19" textLength="9.74" lengthAdjust="spacingAndGlyphs" transform="translate(0,5.20) scale(1,1.2540)">J</text><text x="935.64" textLength="16.66" lengthAdjust="spacingAndGlyphs">u</text><text x="953.42" textLength="16.66" lengthAdjust="spacingAndGlyphs">n</text><text x="980.09" textLength="16.29" lengthAdjust="spacingAndGlyphs">0</text><text x="998.05" textLength="15.55" lengthAdjust="spacingAndGlyphs">1</text></g>
<g font-size="29.50" transform="translate(0,874.20)"><text x="1116.96" textLength="9.74" lengthAdjust="spacingAndGlyphs" transform="translate(0,5.20) scale(1,1.2540)">J</text><text x="1128.42" textLength="16.66" lengthAdjust="spacingAndGlyphs">u</text><text x="1146.19" textLength="16.66" lengthAdjust="spacingAndGlyphs">n</text><text x="1173.10" textLength="15.55" lengthAdjust="spacingAndGlyphs">1</text><text x="1190.94" textLength="15.37" lengthAdjust="spacingAndGlyphs">5</text></g>
<g font-size="29.50" transform="translate(0,874.20)"><text x="1342.23" textLength="9.74" lengthAdjust="spacingAndGlyphs" transform="translate(0,5.20) scale(1,1.2540)">J</text><text x="1353.68" textLength="16.66" lengthAdjust="spacingAndGlyphs">u</text><text x="1371.63" textLength="6.31" lengthAdjust="spacingAndGlyphs">l</text><text x="1388.21" textLength="16.29" lengthAdjust="spacingAndGlyphs">0</text><text x="1406.17" textLength="15.55" lengthAdjust="spacingAndGlyphs">1</text></g>
<g font-size="29.50" transform="translate(0,874.20)"><text x="1535.00" textLength="9.74" lengthAdjust="spacingAndGlyphs" transform="translate(0,5.20) scale(1,1.2540)">J</text><text x="1546.46" textLength="16.66" lengthAdjust="spacingAndGlyphs">u</text><text x="1564.40" textLength="6.31" lengthAdjust="spacingAndGlyphs">l</text><text x="1581.22" textLength="15.55" lengthAdjust="spacingAndGlyphs">1</text><text x="1599.06" textLength="15.37" lengthAdjust="spacingAndGlyphs">5</text></g>
<g font-size="29.50" transform="translate(0,874.20)"><text x="1761.67" textLength="18.66" lengthAdjust="spacingAndGlyphs">A</text><text x="1780.98" textLength="16.66" lengthAdjust="spacingAndGlyphs">u</text><text x="1798.49" textLength="16.79" lengthAdjust="spacingAndGlyphs">g</text><text x="1825.46" textLength="16.29" lengthAdjust="spacingAndGlyphs">0</text><text x="1843.42" textLength="15.55" lengthAdjust="spacingAndGlyphs">1</text></g>
<g font-size="29.50" transform="translate(0,874.20)"><text x="1954.44" textLength="18.66" lengthAdjust="spacingAndGlyphs">A</text><text x="1973.76" textLength="16.66" lengthAdjust="spacingAndGlyphs">u</text><text x="1991.26" textLength="16.79" lengthAdjust="spacingAndGlyphs">g</text><text x="2018.46" textLength="15.55" lengthAdjust="spacingAndGlyphs">1</text><text x="2036.30" textLength="15.37" lengthAdjust="spacingAndGlyphs">5</text></g>
<g font-size="29.50" transform="translate(0,874.20)"><text x="2190.01" textLength="16.52" lengthAdjust="spacingAndGlyphs">S</text><text x="2207.25" textLength="16.69" lengthAdjust="spacingAndGlyphs">e</text><text x="2224.71" textLength="16.81" lengthAdjust="spacingAndGlyphs">p</text><text x="2251.36" textLength="16.29" lengthAdjust="spacingAndGlyphs">0</text><text x="2269.32" textLength="15.55" lengthAdjust="spacingAndGlyphs">1</text></g>
<g font-size="29.50" transform="translate(0,874.20)"><text x="2382.79" textLength="16.52" lengthAdjust="spacingAndGlyphs">S</text><text x="2400.02" textLength="16.69" lengthAdjust="spacingAndGlyphs">e</text><text x="2417.48" textLength="16.81" lengthAdjust="spacingAndGlyphs">p</text><text x="2444.37" textLength="15.55" lengthAdjust="spacingAndGlyphs">1</text><text x="2462.21" textLength="15.37" lengthAdjust="spacingAndGlyphs">5</text></g>
<g font-size="29.50" transform="translate(0,874.20)"><text x="2604.82" textLength="21.36" lengthAdjust="spacingAndGlyphs">O</text><text x="2626.84" textLength="13.94" lengthAdjust="spacingAndGlyphs">c</text><text x="2641.99" textLength="10.31" lengthAdjust="spacingAndGlyphs">t</text><text x="2662.28" textLength="16.29" lengthAdjust="spacingAndGlyphs">0</text><text x="2680.24" textLength="15.55" lengthAdjust="spacingAndGlyphs">1</text></g>
<g font-size="29.50" transform="translate(0,843.40)"><text x="94.56" textLength="16.29" lengthAdjust="spacingAndGlyphs">0</text></g>
<g font-size="29.50" transform="translate(0,715.15)"><text x="76.76" textLength="15.70" lengthAdjust="spacingAndGlyphs">2</text><text x="94.56" textLength="16.29" lengthAdjust="spacingAndGlyphs">0</text></g>
<g font-size="29.50" transform="translate(0,586.90)"><text x="76.83" textLength="16.29" lengthAdjust="spacingAndGlyphs">4</text><text x="94.56" textLength="16.29" lengthAdjust="spacingAndGlyphs">0</text></g>
<g font-size="29.50" transform="translate(0,458.65)"><text x="76.55" textLength="16.85" lengthAdjust="spacingAndGlyphs">6</text><text x="94.56" textLength="16.29" lengthAdjust="spacingAndGlyphs">0</text></g>
<g font-size="29.50" transform="translate(0,330.40)"><text x="76.75" textLength="16.46" lengthAdjust="spacingAndGlyphs">8</text><text x="94.56" textLength="16.29" lengthAdjust="spacingAndGlyphs">0</text></g>
<g font-size="29.50" transform="translate(0,202.15)"><text x="59.34" textLength="15.55" lengthAdjust="spacingAndGlyphs">1</text><text x="76.83" textLength="16.29" lengthAdjust="spacingAndGlyphs">0</text><text x="94.56" textLength="16.29" lengthAdjust="spacingAndGlyphs">0</text></g>
<g font-size="29.50" transform="translate(0,73.90)"><text x="59.34" textLength="15.55" lengthAdjust="spacingAndGlyphs">1</text><text x="76.76" textLength="15.70" lengthAdjust="spacingAndGlyphs">2</text><text x="94.56" textLength="16.29" lengthAdjust="spacingAndGlyphs">0</text></g>
<g transform="translate(40.6,554.93) rotate(-90)"><g font-size="29.50" transform="translate(0,0.00)"><text x="0.45" textLength="23.07" lengthAdjust="spacingAndGlyphs">M</text><text x="24.41" textLength="20.75" lengthAdjust="spacingAndGlyphs">D</text><text x="45.65" textLength="18.66" lengthAdjust="spacingAndGlyphs">A</text><text x="64.66" textLength="16.46" lengthAdjust="spacingAndGlyphs">8</text><text x="90.90" textLength="21.36" lengthAdjust="spacingAndGlyphs">O</text><text x="113.62" textLength="15.64" lengthAdjust="spacingAndGlyphs">3</text><text x="140.09" textLength="7.82" lengthAdjust="spacingAndGlyphs">(</text><text x="150.60" textLength="16.81" lengthAdjust="spacingAndGlyphs">p</text><text x="168.29" textLength="16.81" lengthAdjust="spacingAndGlyphs">p</text><text x="185.97" textLength="16.81" lengthAdjust="spacingAndGlyphs">b</text><text x="205.17" textLength="7.82" lengthAdjust="spacingAndGlyphs">)</text></g></g>
<g font-size="35.36" transform="translate(0,46.00)"><text x="494.35" textLength="18.82" lengthAdjust="spacingAndGlyphs">2</text><text x="515.69" textLength="19.52" lengthAdjust="spacingAndGlyphs">0</text><text x="536.85" textLength="18.82" lengthAdjust="spacingAndGlyphs">2</text><text x="558.62" textLength="18.75" lengthAdjust="spacingAndGlyphs">3</text><text x="590.13" textLength="19.25" lengthAdjust="spacingAndGlyphs">E</text><text x="610.88" textLength="27.66" lengthAdjust="spacingAndGlyphs">M</text><text x="639.76" textLength="21.58" lengthAdjust="spacingAndGlyphs">B</text><text x="662.96" textLength="19.25" lengthAdjust="spacingAndGlyphs">E</text><text x="683.82" textLength="23.00" lengthAdjust="spacingAndGlyphs">R</text><text x="718.17" textLength="8.86" lengthAdjust="spacingAndGlyphs">|</text><text x="729.42" textLength="8.86" lengthAdjust="spacingAndGlyphs">|</text><text x="750.66" textLength="27.66" lengthAdjust="spacingAndGlyphs">M</text><text x="779.28" textLength="19.69" lengthAdjust="spacingAndGlyphs">o</text><text x="800.01" textLength="19.97" lengthAdjust="spacingAndGlyphs">n</text><text x="821.39" textLength="7.56" lengthAdjust="spacingAndGlyphs">i</text><text x="830.03" textLength="12.37" lengthAdjust="spacingAndGlyphs">t</text><text x="843.26" textLength="19.69" lengthAdjust="spacingAndGlyphs">o</text><text x="863.53" textLength="14.21" lengthAdjust="spacingAndGlyphs">r</text><text x="887.89" textLength="22.37" lengthAdjust="spacingAndGlyphs">A</text><text x="910.85" textLength="25.61" lengthAdjust="spacingAndGlyphs">Q</text><text x="937.09" textLength="19.80" lengthAdjust="spacingAndGlyphs">S</text><text x="957.46" textLength="9.78" lengthAdjust="spacingAndGlyphs">I</text><text x="967.74" textLength="24.88" lengthAdjust="spacingAndGlyphs">D</text><text x="993.62" textLength="10.01" lengthAdjust="spacingAndGlyphs">:</text><text x="1015.71" textLength="19.52" lengthAdjust="spacingAndGlyphs">0</text><text x="1037.24" textLength="18.65" lengthAdjust="spacingAndGlyphs">1</text><text x="1058.21" textLength="19.52" lengthAdjust="spacingAndGlyphs">0</text><text x="1079.60" textLength="19.10" lengthAdjust="spacingAndGlyphs">7</text><text x="1101.13" textLength="18.75" lengthAdjust="spacingAndGlyphs">3</text><text x="1122.24" textLength="18.65" lengthAdjust="spacingAndGlyphs">1</text><text x="1143.21" textLength="19.52" lengthAdjust="spacingAndGlyphs">0</text><text x="1164.74" textLength="18.65" lengthAdjust="spacingAndGlyphs">1</text><text x="1185.71" textLength="19.52" lengthAdjust="spacingAndGlyphs">0</text><text x="1217.14" textLength="9.64" lengthAdjust="spacingAndGlyphs">[</text><text x="1226.39" textLength="11.67" lengthAdjust="spacingAndGlyphs" transform="translate(0,6.23) scale(1,1.2539)">J</text><text x="1239.94" textLength="20.00" lengthAdjust="spacingAndGlyphs">e</text><text x="1260.32" textLength="12.15" lengthAdjust="spacingAndGlyphs">f</text><text x="1272.08" textLength="12.15" lengthAdjust="spacingAndGlyphs">f</text><text x="1283.50" textLength="20.00" lengthAdjust="spacingAndGlyphs">e</text><text x="1303.93" textLength="14.21" lengthAdjust="spacingAndGlyphs">r</text><text x="1318.39" textLength="15.96" lengthAdjust="spacingAndGlyphs">s</text><text x="1335.22" textLength="19.69" lengthAdjust="spacingAndGlyphs">o</text><text x="1355.95" textLength="19.97" lengthAdjust="spacingAndGlyphs">n</text><text x="1387.39" textLength="22.32" lengthAdjust="spacingAndGlyphs">C</text><text x="1410.76" textLength="19.69" lengthAdjust="spacingAndGlyphs">o</text><text x="1431.34" textLength="19.97" lengthAdjust="spacingAndGlyphs">u</text><text x="1452.66" textLength="19.97" lengthAdjust="spacingAndGlyphs">n</text><text x="1473.40" textLength="12.37" lengthAdjust="spacingAndGlyphs">t</text><text x="1487.18" textLength="17.88" lengthAdjust="spacingAndGlyphs">y</text><text x="1504.25" textLength="13.49" lengthAdjust="spacingAndGlyphs">,</text><text x="1527.47" textLength="22.37" lengthAdjust="spacingAndGlyphs">A</text><text x="1550.97" textLength="7.56" lengthAdjust="spacingAndGlyphs">l</text><text x="1560.13" textLength="16.65" lengthAdjust="spacingAndGlyphs">a</text><text x="1580.56" textLength="20.15" lengthAdjust="spacingAndGlyphs">b</text><text x="1601.80" textLength="16.65" lengthAdjust="spacingAndGlyphs">a</text><text x="1622.05" textLength="31.61" lengthAdjust="spacingAndGlyphs">m</text><text x="1654.81" textLength="16.65" lengthAdjust="spacingAndGlyphs">a</text><text x="1677.51" textLength="9.64" lengthAdjust="spacingAndGlyphs">]</text><text x="1699.37" textLength="8.86" lengthAdjust="spacingAndGlyphs">|</text><text x="1710.63" textLength="8.86" lengthAdjust="spacingAndGlyphs">|</text><text x="1732.43" textLength="9.37" lengthAdjust="spacingAndGlyphs">(</text><text x="1744.99" textLength="19.97" lengthAdjust="spacingAndGlyphs">n</text><text x="1766.95" textLength="25.06" lengthAdjust="spacingAndGlyphs">=</text><text x="1794.60" textLength="18.65" lengthAdjust="spacingAndGlyphs">1</text><text x="1816.00" textLength="18.75" lengthAdjust="spacingAndGlyphs">3</text><text x="1836.48" textLength="20.21" lengthAdjust="spacingAndGlyphs">6</text><text x="1868.22" textLength="19.69" lengthAdjust="spacingAndGlyphs">o</text><text x="1888.80" textLength="19.97" lengthAdjust="spacingAndGlyphs">u</text><text x="1909.69" textLength="12.37" lengthAdjust="spacingAndGlyphs">t</text><text x="1933.53" textLength="19.69" lengthAdjust="spacingAndGlyphs">o</text><text x="1953.76" textLength="12.15" lengthAdjust="spacingAndGlyphs">f</text><text x="1977.10" textLength="18.65" lengthAdjust="spacingAndGlyphs">1</text><text x="1997.96" textLength="19.73" lengthAdjust="spacingAndGlyphs">8</text><text x="2019.74" textLength="18.75" lengthAdjust="spacingAndGlyphs">3</text><text x="2051.05" textLength="20.15" lengthAdjust="spacingAndGlyphs">p</text><text x="2071.91" textLength="19.69" lengthAdjust="spacingAndGlyphs">o</text><text x="2092.91" textLength="15.96" lengthAdjust="spacingAndGlyphs">s</text><text x="2110.31" textLength="15.96" lengthAdjust="spacingAndGlyphs">s</text><text x="2127.66" textLength="7.56" lengthAdjust="spacingAndGlyphs">i</text><text x="2136.77" textLength="20.15" lengthAdjust="spacingAndGlyphs">b</text><text x="2158.12" textLength="7.56" lengthAdjust="spacingAndGlyphs">l</text><text x="2166.87" textLength="20.00" lengthAdjust="spacingAndGlyphs">e</text><text x="2198.04" textLength="20.13" lengthAdjust="spacingAndGlyphs">d</text><text x="2219.65" textLength="16.65" lengthAdjust="spacingAndGlyphs">a</text><text x="2240.29" textLength="17.88" lengthAdjust="spacingAndGlyphs">y</text><text x="2260.07" textLength="15.96" lengthAdjust="spacingAndGlyphs">s</text><text x="2279.06" textLength="9.37" lengthAdjust="spacingAndGlyphs">)</text></g>
</g>
<rect x="145.5" y="76.3" width="381.1" height="175.9" rx="5.6" ry="5.6" fill="#fff" fill-opacity="0.8" stroke="#d6d6d6" stroke-width="2.3"/>
<line x1="154" y1="99.9" x2="214.1" y2="99.9" stroke="#000000" stroke-width="4.17"/>
<line x1="154" y1="141.9" x2="214.1" y2="141.9" stroke="#0000ff" stroke-width="4.17"/>
<line x1="154" y1="183.8" x2="214.1" y2="183.8" stroke="#ff0000" stroke-width="4.17"/>
<line x1="156" y1="226" x2="212" y2="226" stroke="#dcdcdc" stroke-width="4" stroke-dasharray="3.95 7.09"/>
<g style="filter:grayscale(1)">
<g font-size="29.50" transform="translate(0,109.60)"><text x="234.66" textLength="21.36" lengthAdjust="spacingAndGlyphs">O</text><text x="256.90" textLength="16.81" lengthAdjust="spacingAndGlyphs">b</text><text x="274.78" textLength="13.31" lengthAdjust="spacingAndGlyphs">s</text><text x="288.79" textLength="16.69" lengthAdjust="spacingAndGlyphs">e</text><text x="305.83" textLength="11.85" lengthAdjust="spacingAndGlyphs">r</text><text x="317.85" textLength="14.99" lengthAdjust="spacingAndGlyphs">v</text><text x="333.87" textLength="16.69" lengthAdjust="spacingAndGlyphs">e</text><text x="351.02" textLength="16.79" lengthAdjust="spacingAndGlyphs">d</text></g>
<g font-size="29.50" transform="translate(0,151.60)"><text x="234.85" textLength="23.07" lengthAdjust="spacingAndGlyphs">M</text><text x="258.73" textLength="16.42" lengthAdjust="spacingAndGlyphs">o</text><text x="275.75" textLength="16.79" lengthAdjust="spacingAndGlyphs">d</text><text x="293.43" textLength="16.69" lengthAdjust="spacingAndGlyphs">e</text><text x="311.02" textLength="6.31" lengthAdjust="spacingAndGlyphs">l</text><text x="318.31" textLength="16.69" lengthAdjust="spacingAndGlyphs">e</text><text x="335.46" textLength="16.79" lengthAdjust="spacingAndGlyphs">d</text><text x="362.67" textLength="7.82" lengthAdjust="spacingAndGlyphs">(</text><text x="373.12" textLength="18.00" lengthAdjust="spacingAndGlyphs">B</text><text x="392.33" textLength="13.89" lengthAdjust="spacingAndGlyphs">a</text><text x="409.56" textLength="13.31" lengthAdjust="spacingAndGlyphs">s</text><text x="423.57" textLength="16.69" lengthAdjust="spacingAndGlyphs">e</text><text x="440.80" textLength="13.94" lengthAdjust="spacingAndGlyphs">c</text><text x="456.37" textLength="13.89" lengthAdjust="spacingAndGlyphs">a</text><text x="473.61" textLength="13.31" lengthAdjust="spacingAndGlyphs">s</text><text x="487.61" textLength="16.69" lengthAdjust="spacingAndGlyphs">e</text><text x="506.58" textLength="7.82" lengthAdjust="spacingAndGlyphs">)</text></g>
<g font-size="29.50" transform="translate(0,193.40)"><text x="235.17" textLength="14.54" lengthAdjust="spacingAndGlyphs">F</text><text x="251.14" textLength="6.31" lengthAdjust="spacingAndGlyphs">i</text><text x="256.30" textLength="11.85" lengthAdjust="spacingAndGlyphs">r</text><text x="267.85" textLength="16.69" lengthAdjust="spacingAndGlyphs">e</text><text x="293.00" textLength="8.16" lengthAdjust="spacingAndGlyphs">I</text><text x="301.62" textLength="26.36" lengthAdjust="spacingAndGlyphs">m</text><text x="328.91" textLength="16.81" lengthAdjust="spacingAndGlyphs">p</text><text x="346.63" textLength="13.89" lengthAdjust="spacingAndGlyphs">a</text><text x="363.44" textLength="13.94" lengthAdjust="spacingAndGlyphs">c</text><text x="378.60" textLength="10.31" lengthAdjust="spacingAndGlyphs">t</text><text x="390.10" textLength="13.31" lengthAdjust="spacingAndGlyphs">s</text></g>
<g font-size="29.50" transform="translate(0,235.20)"><text x="235.21" textLength="15.93" lengthAdjust="spacingAndGlyphs">7</text><text x="253.05" textLength="15.55" lengthAdjust="spacingAndGlyphs">1</text><text x="279.28" textLength="16.81" lengthAdjust="spacingAndGlyphs">p</text><text x="296.97" textLength="16.81" lengthAdjust="spacingAndGlyphs">p</text><text x="314.65" textLength="16.81" lengthAdjust="spacingAndGlyphs">b</text></g>
</g>
</svg></body></html>
